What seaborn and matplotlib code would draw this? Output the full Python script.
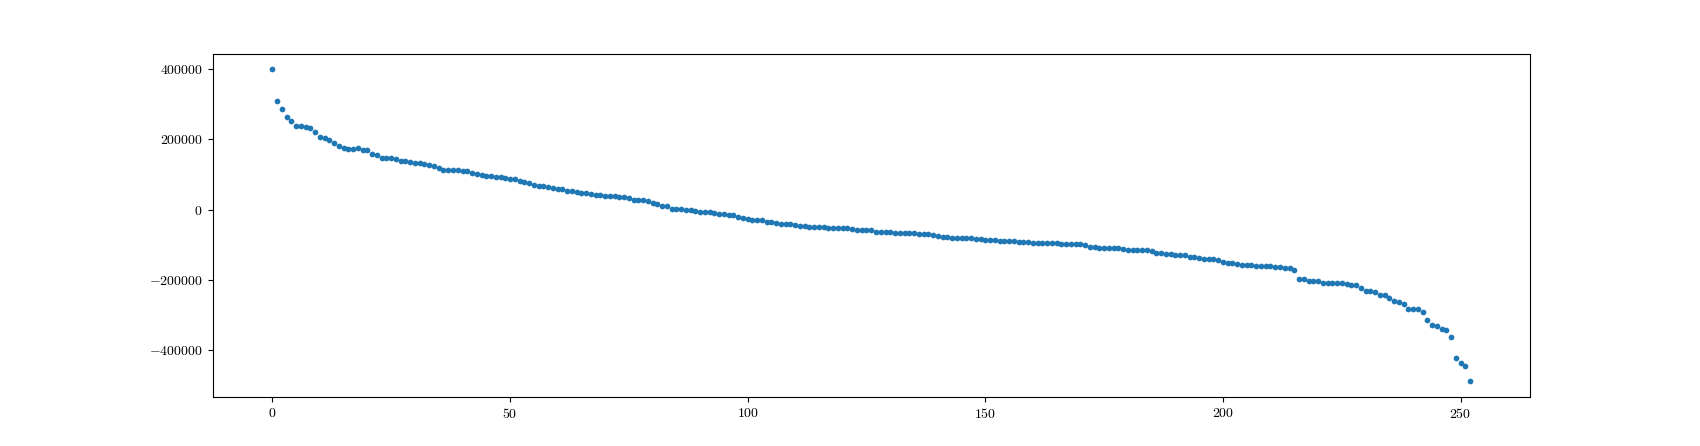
import numpy as np
import matplotlib
matplotlib.use('Agg')
import matplotlib.pyplot as plt
import seaborn as sns

# values, sorted descending (index 0..252)
values = [
    400000, 307900, 285100, 262400, 253000, 238800, 238800, 234000, 231100, 221700,
    205500, 202700, 197000, 190500, 180000, 176300, 173400, 173400, 174000, 170600,
    168600, 159200, 156400, 147800, 145800, 145800, 143000, 139300, 137300, 136800,
    134000, 131700, 130800, 127900, 125100, 119400, 112600, 113500, 113500, 113500,
    109700, 109700, 104900, 102300, 99400, 96700, 96700, 93800, 93800, 91000,
    88200, 88200, 82500, 79600, 76800, 71100, 68200, 68200, 65400, 62500,
    59700, 57300, 54000, 54000, 51200, 48300, 46300, 43500, 40700, 40700,
    37800, 37800, 37800, 35800, 35000, 32100, 26400, 26400, 26400, 23600,
    19900, 17000, 9400, 9400, 2800, 2800, 2800, 0, 0, -2800,
    -5700, -5700, -8100, -8500, -11400, -11400, -14200, -14200, -19900, -22700,
    -25600, -28400, -28400, -28400, -34100, -34100, -37000, -39800, -39800, -39800,
    -42600, -45500, -45500, -48300, -48300, -48300, -48300, -51200, -51200, -51200,
    -51200, -51200, -54000, -56900, -59200, -59300, -58800, -62500, -62500, -62500,
    -62500, -65400, -65400, -65400, -65400, -65400, -68200, -68200, -68200, -71100,
    -73900, -76800, -76800, -79600, -79600, -79600, -79600, -79600, -82400, -82400,
    -85300, -85300, -85300, -88100, -88100, -88100, -88100, -91000, -91000, -91000,
    -93800, -93800, -93800, -93800, -93800, -93800, -96700, -96700, -96700, -96700,
    -96700, -99500, -105200, -105200, -108000, -108000, -108000, -108000, -108000, -110900,
    -113700, -113700, -113700, -113700, -113700, -116600, -122200, -122200, -125100, -125100,
    -127900, -127900, -127900, -133600, -133600, -136500, -139300, -139300, -139300, -142200,
    -147800, -150700, -150700, -153500, -156400, -156400, -156400, -159200, -159200, -159200,
    -159200, -162100, -162100, -164900, -167700, -170600, -196200, -196200, -201900, -204200,
    -204200, -207600, -207600, -207600, -207600, -210400, -213200, -216100, -216100, -224600,
    -233100, -233100, -236000, -244500, -243000, -253000, -261600, -264400, -270100, -284300,
    -284300, -284300, -292800, -315600, -329800, -332600, -341200, -344000, -363900, -423600,
    -437800, -446400, -489000,
]
index = list(range(len(values)))

plt.rcParams['font.family'] = 'serif'
plt.rcParams['font.serif'] = ['cmr10', 'DejaVu Serif']
plt.rcParams['mathtext.fontset'] = 'cm'
plt.rcParams['axes.formatter.use_mathtext'] = True

fig, ax = plt.subplots(figsize=(17, 4.46), dpi=100)
sns.scatterplot(x=index, y=values, ax=ax, s=17, linewidth=0, color='#1f77b4')
ax.set_xticks([0, 50, 100, 150, 200, 250])
ax.set_yticks([-400000, -200000, 0, 200000, 400000])

fig.savefig('out.png', dpi=100)
